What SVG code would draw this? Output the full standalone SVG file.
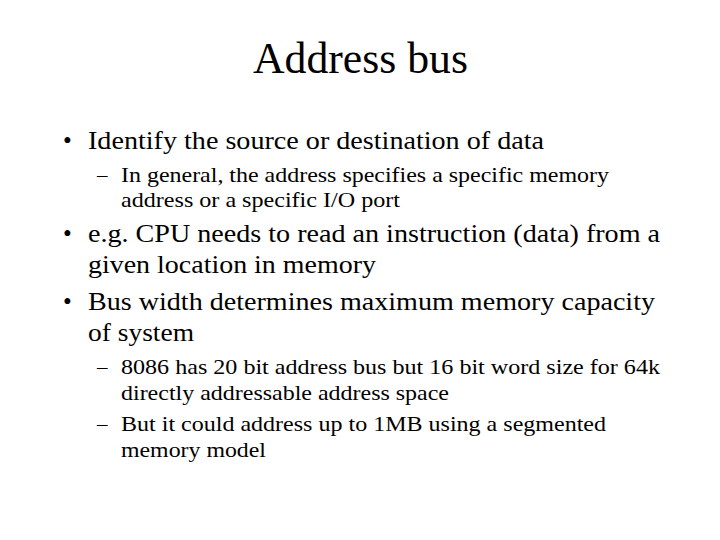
<svg xmlns="http://www.w3.org/2000/svg" width="720" height="540" viewBox="0 0 720 540">
<style>
text{font-family:"Liberation Serif","Times New Roman",serif;fill:#000}
.t{font-size:44px}
.b{font-size:25px}
.s{font-size:21px}
</style>
<rect width="720" height="540" fill="#fff"/>
<text class="t" x="253" y="73" textLength="215" lengthAdjust="spacingAndGlyphs">Address bus</text>
<g id="b1">
<text class="b" x="63" y="149">•</text>
<text class="b" x="88" y="149" textLength="456" lengthAdjust="spacingAndGlyphs">Identify the source or destination of data</text>
</g>
<g id="s1">
<text class="s" x="97" y="182">–</text>
<text class="s" x="121" y="182" textLength="488" lengthAdjust="spacingAndGlyphs">In general, the address specifies a specific memory</text>
<text class="s" x="121" y="207" textLength="279" lengthAdjust="spacingAndGlyphs">address or a specific I/O port</text>
</g>
<g id="b2">
<text class="b" x="63" y="242">•</text>
<text class="b" x="88" y="242" textLength="572" lengthAdjust="spacingAndGlyphs">e.g. CPU needs to read an instruction (data) from a</text>
<text class="b" x="88" y="273" textLength="288" lengthAdjust="spacingAndGlyphs">given location in memory</text>
</g>
<g id="b3">
<text class="b" x="63" y="310">•</text>
<text class="b" x="88" y="310" textLength="567" lengthAdjust="spacingAndGlyphs">Bus width determines maximum memory capacity</text>
<text class="b" x="88" y="341" textLength="106" lengthAdjust="spacingAndGlyphs">of system</text>
</g>
<g id="s2">
<text class="s" x="97" y="374">–</text>
<text class="s" x="121" y="374" textLength="539" lengthAdjust="spacingAndGlyphs">8086 has 20 bit address bus but 16 bit word size for 64k</text>
<text class="s" x="121" y="400" textLength="328" lengthAdjust="spacingAndGlyphs">directly addressable address space</text>
<text class="s" x="97" y="431">–</text>
<text class="s" x="121" y="431" textLength="485" lengthAdjust="spacingAndGlyphs">But it could address up to 1MB using a segmented</text>
<text class="s" x="121" y="457" textLength="145" lengthAdjust="spacingAndGlyphs">memory model</text>
</g>
</svg>
